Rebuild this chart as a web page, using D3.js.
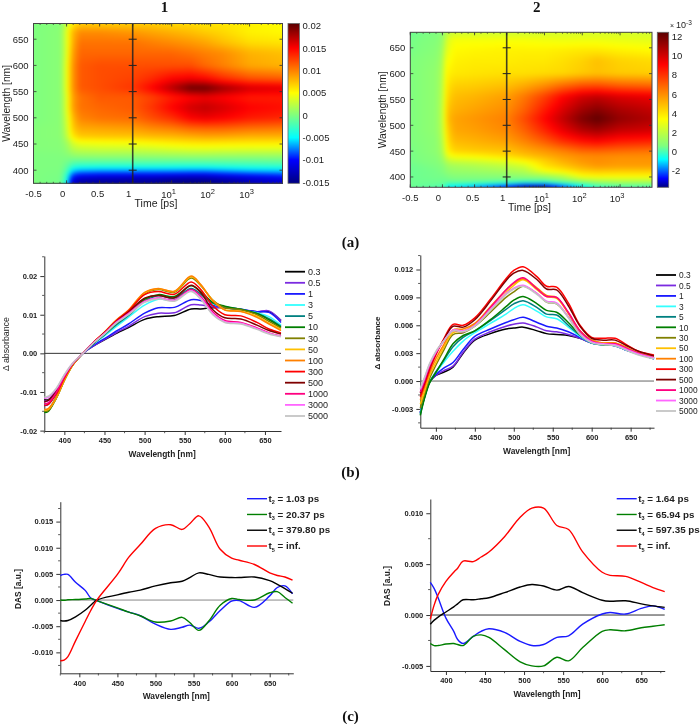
<!DOCTYPE html>
<html>
<head>
<meta charset="utf-8">
<script src="https://cdn.jsdelivr.net/npm/d3@7"></script>
<style>
  html, body { margin: 0; padding: 0; background: #fff; }
  body { position: relative; width: 700px; height: 724px; overflow: hidden; }
  .surface { position: absolute; overflow: hidden; }
  .surface canvas { position: absolute; filter: blur(2px); }
  svg { position: absolute; left: 0; top: 0; filter: blur(0.3px); }
  text { font-family: "Liberation Sans", Arial, sans-serif; fill: #222; }
  .axis path, .axis line { stroke: #333; }
  .axis text { font-size: 7.5px; font-weight: bold; fill: #222; }
</style>
</head>
<body>
<script>
// heatmaps, values in units of 1e-3
var heat1Times = [-0.5, -0.1, 0, 0.05, 0.1, 0.2, 0.5, 1, 3, 10, 30, 70, 200, 1000, 7000];
var heat1Wavelengths = [375, 380, 390, 400, 410, 420, 430, 445, 455, 465, 480, 500, 520, 540, 558, 575, 600, 625, 645, 665, 680];
var heat1Values = [
  [0, -0.3, -5, -10, -12.5, -14, -14.5, -14.5, -14.5, -15, -15.3, -15, -14.5, -13, -12],
  [0, -0.3, -4.5, -9.5, -12, -13.5, -14, -14.2, -14.3, -14.8, -15, -14.8, -14.3, -13, -12],
  [0, -0.2, -3.5, -7.5, -9.5, -10.5, -11, -11.2, -11.2, -11.5, -11.7, -11.7, -11, -10.3, -9.5],
  [0, -0.1, -2, -4.5, -6, -6.7, -7, -7, -7, -7, -7.2, -7.2, -6.8, -6.2, -6],
  [0, 0, -1, -2, -2.8, -3.1, -3.2, -3.2, -3.2, -3.3, -3.3, -3.3, -3.1, -2.9, -2.7],
  [0, 0, -0.2, -0.5, -0.6, -0.7, -0.7, -0.7, -0.7, -0.7, -0.7, -0.7, -0.7, -0.7, -0.6],
  [0, 0.1, 0.3, 0.6, 0.9, 1.1, 1.2, 1.2, 1.3, 1.4, 1.5, 1.5, 1.4, 1.4, 1.4],
  [0.2, 0.3, 1, 2, 2.7, 3.2, 3.5, 3.6, 3.8, 4.2, 4.5, 4.6, 4.5, 4.4, 4.4],
  [0.2, 0.3, 1.5, 2.8, 3.8, 4.8, 5, 5.2, 5.6, 6, 6.3, 6.4, 6.3, 6.2, 6.1],
  [0.2, 0.4, 2.5, 4.5, 6, 7, 7.2, 7.3, 7.6, 7.8, 8.2, 8.5, 8.4, 8, 8],
  [0.2, 0.4, 3, 5.5, 7.2, 8.3, 8.5, 8.8, 9.5, 10, 10.8, 11, 11, 10.5, 10.2],
  [0, 0.4, 3.5, 6, 8, 9.8, 10.5, 10.8, 12, 13.2, 15, 15.5, 15, 14, 13.5],
  [0, 0.4, 4, 7, 9, 10.5, 11, 11.5, 13, 15, 16.5, 17, 16.3, 15, 14.5],
  [0, 0.4, 4, 7, 9, 10.5, 11.5, 11.5, 12.5, 14, 15, 15.5, 15, 14, 14],
  [0, 0.4, 4.5, 7.5, 9.5, 11.5, 12, 13, 15, 17.5, 20, 20, 18.3, 16.5, 16],
  [0, 0.4, 4.5, 7.5, 9.5, 11.5, 12, 12.5, 13.5, 15, 15.5, 15, 13.5, 12, 11.5],
  [0, 0.4, 4.5, 7.5, 9.5, 11.5, 12, 12, 12, 12, 12, 11, 10, 8.5, 8],
  [0, 0.4, 4, 7, 9, 11, 11, 11, 11, 11, 10.5, 10, 9.5, 8, 7.5],
  [0, 0.4, 4, 6.5, 8.5, 10.5, 10.5, 10.5, 10, 9.5, 9, 8.5, 7.5, 6.3, 6],
  [0, 0.4, 4, 6.5, 8, 9.5, 9.5, 9, 8.5, 8, 7.5, 7, 6.5, 5.5, 5.2],
  [0, 0.3, 3, 5, 6, 7, 7, 7, 7, 6.5, 6.5, 6, 6, 5.5, 5]
];
var heat1ColorValues = [-15.2, -10, -5, 0, 5, 10, 15, 20.5];

var heat2Times = [-0.5, -0.1, 0, 0.05, 0.1, 0.2, 0.5, 1, 3, 10, 30, 100, 250, 1000, 7000];
var heat2Wavelengths = [380, 384, 390, 400, 410, 420, 430, 440, 450, 470, 490, 512, 530, 555, 575, 600, 625, 645, 665, 680];
var heat2Values = [
  [0.4, 0.1, 0, -0.3, -1, -1, -1.5, -2.8, -3.7, -3.7, -2.4, -1, -0.3, 0, 0],
  [0.4, 0.3, 0.2, 0, -0.5, -0.5, -0.8, -1.3, -2.2, -2.2, -1.2, -0.3, 0.3, 0.5, 0.5],
  [0.4, 0.4, 0.4, 0.4, 0.4, 0.4, 0.4, 0.2, 0, 0, 0.4, 0.8, 1.2, 1.5, 1.5],
  [0.4, 0.5, 0.5, 0.5, 0.6, 0.7, 0.7, 0.8, 0.9, 1, 1.6, 3.2, 3.4, 3.4, 3.4],
  [0.4, 0.5, 0.6, 0.8, 1, 1.1, 1.2, 1.4, 1.7, 3, 3.6, 4.4, 4.6, 4.5, 4.5],
  [0.4, 0.6, 0.7, 1, 1.3, 1.4, 1.6, 2, 2.4, 4, 4.6, 5.3, 5.7, 5.6, 5.6],
  [0.5, 0.7, 1, 1.5, 2, 2.2, 2.4, 2.8, 3.5, 4.4, 5.2, 5.8, 6, 5.8, 5.8],
  [0.5, 0.8, 1.2, 2.3, 3, 3.4, 3.6, 4.2, 4.7, 5.2, 5.7, 6, 6.1, 6, 6],
  [0.5, 0.9, 1.4, 2.8, 3.8, 4.4, 4.6, 4.8, 5.3, 5.8, 6.3, 6.9, 7, 6.8, 6.6],
  [0.6, 0.9, 1.6, 3.2, 4.3, 5, 5.2, 5.6, 6.3, 7.2, 8.2, 8.9, 9.2, 8.7, 8.5],
  [0.6, 1, 1.8, 3.6, 4.6, 5.4, 5.6, 6.1, 7, 8.3, 9.5, 10.6, 11, 10.3, 10],
  [0.6, 1, 1.9, 3.8, 5, 5.5, 5.8, 6.3, 7.5, 9, 10.3, 11.7, 12.3, 11.3, 10.7],
  [0.6, 1, 1.9, 3.8, 4.8, 5.2, 5.5, 6, 7, 8.5, 9.8, 11, 11.5, 10.8, 10.3],
  [0.6, 1, 1.8, 3.6, 4.4, 4.9, 5.1, 5.6, 6.5, 7.7, 9, 10, 10.3, 9.8, 9.5],
  [0.6, 1, 1.7, 3.5, 4.1, 4.5, 4.6, 4.9, 5.4, 6.1, 6.9, 7.5, 7.6, 7.2, 7],
  [0.6, 1, 1.6, 3.3, 3.7, 3.9, 4, 4.1, 4.1, 4.2, 4.3, 4.6, 4.8, 4.6, 4.5],
  [0.6, 0.9, 1.4, 3, 3.3, 3.7, 3.8, 3.8, 3.9, 3.9, 4.1, 4.4, 4.8, 4.4, 4.2],
  [0.5, 0.8, 1.2, 2.5, 3, 3.5, 3.6, 3.7, 3.7, 3.7, 3.8, 3.9, 3.9, 3.7, 3.5],
  [0.5, 0.7, 1, 2, 2.8, 3.2, 3.2, 3.2, 3.2, 3.1, 3, 3, 3, 2.9, 2.8],
  [0.4, 0.6, 0.8, 1.5, 2, 2.3, 2.3, 2.3, 2.3, 2.4, 2.5, 2.5, 2.5, 2.5, 2.4]
];
var heat2ColorValues = [-3.73, -2.8, -0.8, 0.6, 3.4, 6.3, 9.1, 12.46];

var heatColors = ["#00007f", "#0000ff", "#00ffff", "#7fff7f", "#ffff00", "#ff8000", "#ff0000", "#5a0000"];

// time resolved spectra
var delayLabels = ["0.3", "0.5", "1", "3", "5", "10", "30", "50", "100", "300", "500", "1000", "3000", "5000"];
var delayColors = ["#000000", "#7b2be0", "#1a1aff", "#33ffff", "#008080", "#007f00", "#808000", "#ffc000", "#ff8000", "#ff0000", "#7f0000", "#ff0080", "#ff66ff", "#c4c4c4"];

var spec1Wavelengths = [375, 380, 390, 400, 410, 423, 437, 450, 465, 480, 500, 517, 537, 558, 570, 585, 600, 620, 640, 655, 670];
var spec1Values = [
  [-12, -12, -9.5, -6, -3, 0, 2, 3.5, 5.2, 6.7, 8.8, 9.5, 9.8, 11.5, 11.5, 11.8, 11.8, 11.3, 10.8, 10.8, 8.5],
  [-12.3, -12.2, -9.6, -6, -3, 0, 2, 3.6, 5.4, 7, 9.5, 10.4, 10.5, 12.6, 12.5, 12, 11.8, 11.3, 10.8, 11, 8.5],
  [-13.5, -13.2, -10.3, -6.3, -3, 0, 2.2, 3.8, 5.8, 7.6, 10.4, 11.8, 11.9, 13.9, 13.7, 12.4, 12, 11.4, 10.8, 10.6, 8],
  [-14.8, -14.5, -11, -6.5, -3, 0, 2.5, 4.5, 7, 9.4, 12.5, 14, 13.8, 16.2, 15, 12.8, 12, 11.3, 10.5, 9.5, 7.3],
  [-15, -14.7, -11.3, -6.8, -3.1, 0, 2.6, 4.8, 7.4, 9.8, 13.5, 14.9, 14.3, 16.8, 15.3, 13, 12, 11.4, 10.3, 9, 7],
  [-15.3, -15, -11.5, -7, -3.1, 0, 2.7, 5, 7.8, 10.2, 14, 15.2, 14.7, 17.5, 16, 13.2, 12.2, 11.4, 10.3, 8.7, 6.8],
  [-15, -14.8, -11.6, -7, -3.2, 0, 2.8, 5.2, 8.3, 10.8, 15.4, 16.5, 15.8, 19.5, 17.5, 13.8, 11.8, 11.3, 10, 8.3, 6.5],
  [-14.7, -14.5, -11.5, -7, -3.2, 0, 2.9, 5.4, 8.5, 11, 15.6, 16.7, 16, 19.8, 17.7, 13.7, 11.3, 10.9, 9.6, 7.8, 6.2],
  [-14.5, -14.3, -11.3, -6.9, -3.1, 0, 3, 5.5, 8.7, 11.2, 15.8, 16.8, 16.1, 20, 17.8, 13.6, 11.2, 10.8, 9.3, 7.6, 5.9],
  [-13.5, -13.2, -10.5, -6.3, -2.9, 0, 3, 5.4, 8.5, 11, 15.2, 16, 15.3, 18.5, 16.5, 12.3, 10, 9.7, 8, 6.3, 5.3],
  [-12.5, -12.2, -9.8, -6, -2.8, 0, 2.9, 5.3, 8.3, 10.7, 14.3, 15, 14.4, 17.6, 15.7, 11.3, 9.2, 8.9, 7.3, 5.9, 5],
  [-13, -12.8, -10.1, -6.1, -2.8, 0, 2.9, 5.2, 8.2, 10.4, 13.5, 14.3, 13.8, 16.5, 14.7, 10.7, 8.5, 8, 6.6, 5.3, 4.5],
  [-11.6, -11.4, -9.2, -5.6, -2.6, 0, 2.8, 5.1, 8, 10.2, 13.4, 14.3, 13.7, 16.2, 14.3, 10.3, 8.2, 7.8, 6.4, 5.2, 4.4],
  [-11.3, -11.1, -9, -5.5, -2.6, 0, 2.8, 5, 7.9, 10, 13.2, 14.1, 13.5, 16, 14, 10, 8, 7.6, 6.2, 5, 4.3]
];

var spec2Wavelengths = [380, 385, 392, 400, 410, 422, 435, 450, 470, 490, 500, 512, 530, 542, 555, 570, 585, 600, 615, 630, 645, 660, 680];
var spec2Values = [
  [-3.4, -1.8, -0.1, 0.6, 0.95, 1.5, 3, 4.4, 5.1, 5.6, 5.7, 5.8, 5.4, 5.1, 5, 4.9, 4.6, 4.1, 3.9, 3.8, 3.3, 2.9, 2.4],
  [-3.4, -1.8, -0.1, 0.6, 1.1, 1.6, 3.1, 4.5, 5.3, 5.9, 6.1, 6.25, 5.8, 5.4, 5.3, 5, 4.6, 4.1, 3.9, 3.8, 3.3, 2.9, 2.4],
  [-3.4, -1.8, -0.1, 0.7, 1.4, 2, 3.4, 4.8, 5.6, 6.3, 6.6, 6.85, 6.3, 5.9, 5.7, 5.3, 4.7, 4.1, 3.9, 3.8, 3.3, 2.9, 2.4],
  [-3.5, -1.8, -0.1, 0.9, 2, 3.2, 4.3, 5.2, 6.2, 7.2, 7.8, 8.2, 7.5, 6.9, 6.7, 5.8, 4.8, 4.1, 3.9, 3.8, 3.3, 2.9, 2.4],
  [-3.6, -1.9, -0.1, 1, 2.2, 3.7, 4.7, 5.4, 6.5, 7.7, 8.3, 8.65, 7.9, 7.2, 7.1, 6, 4.9, 4.1, 3.9, 3.9, 3.4, 2.9, 2.5],
  [-3.7, -2, -0.2, 0.9, 2.3, 4, 4.9, 5.4, 6.6, 8, 8.7, 9.1, 8.3, 7.6, 7.4, 6.3, 5, 4.2, 3.9, 3.9, 3.4, 3, 2.5],
  [-2.9, -1.5, 0.3, 1.7, 3.3, 5, 5.2, 5.9, 7.4, 9, 9.6, 10.2, 9.4, 8.5, 8.3, 6.9, 5.2, 4.3, 4, 4, 3.5, 3, 2.5],
  [-2.5, -1.2, 0.6, 2, 3.6, 5.2, 5.4, 6.1, 7.7, 9.5, 10.3, 10.9, 9.8, 9.1, 8.9, 7.3, 5.4, 4.4, 4.1, 4.1, 3.6, 3, 2.6],
  [-2, -0.8, 0.9, 2.4, 3.9, 5.5, 5.6, 6.2, 8, 9.8, 10.5, 11, 10, 9.2, 9, 7.3, 5.4, 4.4, 4.1, 4.1, 3.6, 3, 2.6],
  [-1.7, -0.5, 1.2, 2.8, 4.5, 6.1, 6, 6.8, 8.8, 11, 11.9, 12.3, 11.2, 10.2, 10.1, 8.4, 6, 4.7, 4.6, 4.6, 3.9, 3.2, 2.8],
  [-1.3, -0.2, 1.5, 3, 4.4, 5.9, 5.8, 6.6, 8.6, 10.8, 11.6, 11.9, 10.9, 9.9, 9.8, 8.1, 5.9, 4.6, 4.4, 4.4, 3.8, 3.2, 2.7],
  [-1.2, -0.1, 1.6, 3, 4.3, 5.4, 5.3, 6, 7.9, 9.8, 10.6, 11.1, 9.9, 9.1, 9, 7.4, 5.4, 4.3, 4, 4, 3.5, 3, 2.5],
  [-0.9, 0.2, 1.8, 3.1, 4.3, 5.5, 5.4, 6, 7.7, 9.4, 10, 10.3, 9.4, 8.6, 8.4, 6.9, 5.1, 4.2, 4, 3.9, 3.4, 2.9, 2.5],
  [-0.8, 0.3, 1.9, 3.2, 4.3, 5.4, 5.3, 5.9, 7.6, 9.3, 9.9, 10.2, 9.3, 8.5, 8.3, 6.8, 5, 4.1, 3.9, 3.8, 3.3, 2.8, 2.4]
];

// decay associated spectra
var dasColors = ["#1a1aff", "#007f00", "#000000", "#ff0000"];
var dasSubscripts = ["2", "3", "4", "5"];

var das1Lifetimes = ["1.03 ps", "20.37 ps", "379.80 ps", "inf."];
var das1Wavelengths = [375, 380, 385, 395, 408, 415, 423, 450, 465, 480, 500, 520, 535, 545, 557, 570, 585, 600, 610, 630, 650, 660, 670, 680];
var das1Values = [
  [4.7, 4.9, 4.9, 3.4, 1.8, 0.4, -0.1, -1.6, -2.3, -3, -4.6, -5.6, -5.2, -4.8, -5.4, -4.2, -2, -0.2, -0.1, -1.4, 0.8, 2.4, 2.7, 1.2],
  [0, -0.05, 0.05, 0.1, 0.2, 0.3, -0.1, -1.5, -2.3, -3, -4.2, -4, -3.3, -4.3, -5.8, -4, -1, 0.3, 0.1, 0, 1.4, 1.6, 0.5, -0.6],
  [-3.9, -4, -3.9, -3.2, -1.9, -1, 0, 1, 1.5, 1.9, 2.7, 3.3, 3.6, 4.3, 5.2, 4.9, 4.4, 4.3, 4.3, 4.4, 3.7, 3, 2.2, 1.3],
  [-11.6, -11.5, -10.8, -7.8, -4, -2, 0, 4.9, 8.2, 10.6, 13.7, 14.4, 13.5, 14.6, 16.1, 14, 9.7, 8, 7.6, 6.8, 5.2, 4.7, 4.4, 3.8]
];

var das2Lifetimes = ["1.64 ps", "65.94 ps", "597.35 ps", "inf."];
var das2Wavelengths = [380, 385, 390, 400, 410, 415, 422, 435, 445, 455, 475, 495, 510, 525, 542, 557, 575, 600, 610, 630, 650, 665, 680];
var das2Values = [
  [3.2, 2.6, 1.7, -0.3, -1.6, -2.4, -2.8, -2.1, -1.6, -1.35, -1.7, -2.6, -3, -2.9, -2.2, -2.05, -0.9, 0.1, 0.25, 0.1, 0.65, 0.9, 0.55],
  [-2.8, -3, -3, -2.85, -2.8, -2.9, -3, -2.1, -1.95, -2.2, -3.4, -4.6, -5, -5, -4.15, -4.5, -3.2, -1.6, -1.45, -1.55, -1.25, -1.1, -0.95],
  [-0.9, -0.5, -0.2, 0.3, 0.8, 1.1, 1.5, 1.5, 1.6, 1.7, 2.2, 2.75, 3, 2.85, 2.45, 2.8, 2.2, 1.45, 1.35, 1.4, 1.1, 0.9, 0.75],
  [-0.4, 1, 2, 3.3, 4.2, 4.6, 5.3, 5.25, 5.7, 6.2, 7.7, 9.6, 10.5, 10.5, 8.8, 8.4, 6.2, 4.2, 3.9, 3.8, 3.2, 2.7, 2.3]
];

var wavelengthTicks = [400, 450, 500, 550, 600, 650];
var linearTimeTicks = [-0.5, 0, 0.5, 1];
var linearLabelShift = [0, -4, -2, -4];
var logTimeTicks = [10, 100, 1000];

var width = 700, height = 724;

var svg = d3.select("body").append("svg")
  .attr("width", width)
  .attr("height", height);

function heatmap(o) {
  var xLin = d3.scaleLinear().domain([-0.5, 1]).range([o.left, o.split]);
  var xLog = d3.scaleLog().domain([1, 7000]).range([o.split, o.right]);
  var xTime = function(t) { return t <= 1 ? xLin(t) : xLog(t); };
  var y = d3.scaleLinear().domain(o.wlDomain).range([o.bottom, o.top]);
  var color = d3.scaleLinear().domain(o.colorValues).range(heatColors).clamp(true);

  // the surface, one pixel at a time between the read nodes.
  // it is bigger than the plot so the blur does not fade at the edges
  var pad = 8;
  var w = Math.round(o.right - o.left), h = Math.round(o.bottom - o.top);
  var cw = w + 2 * pad, ch = h + 2 * pad;
  var holder = d3.select("body").insert("div", "svg").attr("class", "surface")
    .style("left", o.left + "px").style("top", o.top + "px")
    .style("width", w + "px").style("height", h + "px");
  var canvas = holder.append("canvas")
    .attr("width", cw).attr("height", ch)
    .style("left", -pad + "px").style("top", -pad + "px");
  var ctx = canvas.node().getContext("2d");
  var img = ctx.createImageData(cw, ch);
  var nodeX = o.times.map(xTime);
  var bisect = d3.bisectRight;
  var clamp01 = function(a) { return Math.max(0, Math.min(1, a)); };
  for (var py = 0; py < ch; py++) {
    var wl = y.invert(o.top - pad + py + 0.5);
    var j = Math.min(Math.max(bisect(o.wavelengths, wl) - 1, 0), o.wavelengths.length - 2);
    var v = clamp01((wl - o.wavelengths[j]) / (o.wavelengths[j + 1] - o.wavelengths[j]));
    for (var px = 0; px < cw; px++) {
      var sx = o.left - pad + px + 0.5;
      var i = Math.min(Math.max(bisect(nodeX, sx) - 1, 0), nodeX.length - 2);
      var u = clamp01((sx - nodeX[i]) / (nodeX[i + 1] - nodeX[i]));
      var z = (1 - v) * ((1 - u) * o.values[j][i] + u * o.values[j][i + 1])
        + v * ((1 - u) * o.values[j + 1][i] + u * o.values[j + 1][i + 1]);
      var c = d3.rgb(color(z));
      var k = (py * cw + px) * 4;
      img.data[k] = c.r; img.data[k + 1] = c.g; img.data[k + 2] = c.b; img.data[k + 3] = 255;
    }
  }
  ctx.putImageData(img, 0, 0);

  var g = svg.append("g");

  // ticks on all four sides, minors every 0.1 ps and log 2..9
  var minorT = d3.range(-5, 11).map(function(d) { return d / 10; });
  var logMinor = [];
  [1, 10, 100, 1000].forEach(function(d) {
    d3.range(2, 10).forEach(function(m) { if (d * m < 7000) logMinor.push(d * m); });
  });
  var allMinor = minorT.concat(logMinor);
  var major = linearTimeTicks.concat(logTimeTicks);
  [o.bottom, o.top].forEach(function(edge, n) {
    var dir = n === 0 ? -1 : 1;
    g.selectAll(null).data(allMinor).enter().append("line")
      .attr("x1", xTime).attr("x2", xTime)
      .attr("y1", edge).attr("y2", edge + dir * 1.5)
      .attr("stroke", "#333").attr("stroke-width", 0.7);
    g.selectAll(null).data(major).enter().append("line")
      .attr("x1", xTime).attr("x2", xTime)
      .attr("y1", edge).attr("y2", edge + dir * 3)
      .attr("stroke", "#333").attr("stroke-width", 0.8);
  });
  var yTicks = [400, 450, 500, 550, 600, 650];
  g.selectAll(null).data(yTicks).enter().append("line")
    .attr("x1", o.left).attr("x2", o.left + 3)
    .attr("y1", y).attr("y2", y).attr("stroke", "#333").attr("stroke-width", 0.8);
  g.selectAll(null).data(yTicks).enter().append("line")
    .attr("x1", o.right - 3).attr("x2", o.right)
    .attr("y1", y).attr("y2", y).attr("stroke", "#333").attr("stroke-width", 0.8);
  g.selectAll(null).data(yTicks).enter().append("line")
    .attr("x1", o.split - 4).attr("x2", o.split + 4)
    .attr("y1", y).attr("y2", y).attr("stroke", "#222").attr("stroke-width", 1);

  g.append("line")
    .attr("x1", o.split).attr("x2", o.split).attr("y1", o.top).attr("y2", o.bottom)
    .attr("stroke", "#222").attr("stroke-opacity", 0.85).attr("stroke-width", 1.6);
  g.append("rect")
    .attr("x", o.left).attr("y", o.top).attr("width", o.right - o.left).attr("height", o.bottom - o.top)
    .attr("fill", "none").attr("stroke", "#444").attr("stroke-width", 1);

  // labels
  g.selectAll(null).data(yTicks).enter().append("text")
    .attr("x", o.left - 5).attr("y", function(d) { return y(d) + 3.4; })
    .attr("text-anchor", "end").attr("font-size", 9.5).attr("fill", "#333")
    .text(function(d) { return d; });
  g.selectAll(null).data(linearTimeTicks).enter().append("text")
    .attr("x", function(d, i) { return xLin(d) + linearLabelShift[i]; })
    .attr("y", o.bottom + 14).attr("text-anchor", "middle").attr("font-size", 9.5).attr("fill", "#333")
    .text(function(d) { return d; });
  var exp = g.selectAll(null).data(logTimeTicks).enter().append("text")
    .attr("x", function(d) { return xLog(d) - 3; })
    .attr("y", o.bottom + 15).attr("text-anchor", "middle").attr("font-size", 9.5).attr("fill", "#333");
  exp.append("tspan").text("10");
  exp.append("tspan").attr("dy", -4).attr("font-size", 7.5)
    .text(function(d) { return Math.round(Math.log10(d)); });
  g.append("text")
    .attr("x", o.timeLabelX).attr("y", o.bottom + 23.5)
    .attr("text-anchor", "middle").attr("font-size", 10.5).attr("fill", "#333").text("Time [ps]");
  g.append("text")
    .attr("transform", "translate(" + o.yLabelX + "," + ((o.top + o.bottom) / 2) + ") rotate(-90)")
    .attr("text-anchor", "middle").attr("font-size", 10.3).attr("fill", "#333").text("Wavelength [nm]");

  // colour bar
  var barY = d3.scaleLinear().domain(o.barDomain).range([o.bottom, o.top]);
  var grad = svg.append("defs").append("linearGradient")
    .attr("id", o.id).attr("x1", 0).attr("x2", 0).attr("y1", 1).attr("y2", 0);
  grad.selectAll("stop").data(o.colorValues).enter().append("stop")
    .attr("offset", function(d) { return (d - o.colorValues[0]) / (o.colorValues[o.colorValues.length - 1] - o.colorValues[0]); })
    .attr("stop-color", function(d) { return color(d); });
  g.append("rect")
    .attr("x", o.barX).attr("y", o.top).attr("width", 11.4).attr("height", o.bottom - o.top)
    .attr("fill", "url(#" + o.id + ")").attr("stroke", "#666").attr("stroke-width", 0.8);
  g.selectAll(null).data(o.barTicks).enter().append("text")
    .attr("x", o.barX + 14.5).attr("y", function(d) { return barY(d) + 3.4; })
    .attr("font-size", 9.5).attr("fill", "#333")
    .text(o.barFormat);
}

heatmap({
  id: "bar1", times: heat1Times, wavelengths: heat1Wavelengths, values: heat1Values,
  colorValues: heat1ColorValues, wlDomain: [375, 680],
  left: 33.5, split: 132.7, right: 282.5, top: 23.5, bottom: 183.3,
  timeLabelX: 156, yLabelX: 9.5,
  barX: 288, barDomain: [-15.2, 20.5], barTicks: [-15, -10, -5, 0, 5, 10, 15, 20],
  barFormat: function(d) { return d === 0 ? "0" : String(d / 1000); }
});

heatmap({
  id: "bar2", times: heat2Times, wavelengths: heat2Wavelengths, values: heat2Values,
  colorValues: heat2ColorValues, wlDomain: [380, 680],
  left: 410.3, split: 506.7, right: 652, top: 32.3, bottom: 187.3,
  timeLabelX: 529.5, yLabelX: 385.5,
  barX: 657.3, barDomain: [-3.73, 12.46], barTicks: [-2, 0, 2, 4, 6, 8, 10, 12],
  barFormat: function(d) { return d; }
});

var expo = svg.append("text").attr("x", 670).attr("y", 28).attr("font-size", 9).attr("fill", "#444");
expo.append("tspan").attr("font-size", 7).text("× ");
expo.append("tspan").text("10");
expo.append("tspan").attr("dy", -3).attr("font-size", 6.5).text("-3");

function spectra(o) {
  var x = d3.scaleLinear().domain(o.xDomain).range([o.left, o.right]);
  var y = d3.scaleLinear().domain(o.yDomain).range([o.bottom, o.top]);
  var g = svg.append("g");
  var fmt = function(d) { return (d / 1000).toFixed(o.digits); };

  g.append("g").attr("class", "axis")
    .attr("transform", "translate(0," + o.bottom + ")")
    .call(d3.axisBottom(x).tickValues(wavelengthTicks).tickSize(4).tickSizeOuter(0).tickPadding(3).tickFormat(d3.format("d")));
  g.append("g").attr("class", "axis")
    .attr("transform", "translate(" + o.left + ",0)")
    .call(d3.axisLeft(y).tickValues(o.yTicks).tickSize(4).tickSizeOuter(0).tickPadding(3).tickFormat(fmt));
  // minors halfway between the majors
  var xMinor = wavelengthTicks.map(function(d) { return d + 25; }).concat([wavelengthTicks[0] - 25])
    .filter(function(d) { return d >= o.xDomain[0] && d <= o.xDomain[1]; });
  g.selectAll(null).data(xMinor).enter().append("line")
    .attr("x1", x).attr("x2", x).attr("y1", o.bottom).attr("y2", o.bottom + 2.2)
    .attr("stroke", "#333").attr("stroke-width", 0.8);
  var step = o.yTicks[1] - o.yTicks[0];
  var yMinor = o.yTicks.map(function(d) { return d + step / 2; }).concat([o.yTicks[0] - step / 2])
    .filter(function(d) { return d >= o.yDomain[0] && d <= o.yDomain[1]; });
  g.selectAll(null).data(yMinor).enter().append("line")
    .attr("x1", o.left).attr("x2", o.left - 2.2).attr("y1", y).attr("y2", y)
    .attr("stroke", "#333").attr("stroke-width", 0.8);

  g.append("line")
    .attr("x1", o.left).attr("x2", o.right).attr("y1", y(0)).attr("y2", y(0))
    .attr("stroke", o.zeroColor).attr("stroke-width", 1);

  var line = d3.line()
    .x(function(d, i) { return x(o.wavelengths[i]); })
    .y(function(d) { return y(d); })
    .curve(d3.curveCatmullRom.alpha(0.5));

  g.selectAll(null).data(o.values).enter().append("path")
    .attr("d", line)
    .attr("fill", "none")
    .attr("stroke", function(d, i) { return o.colors[i]; })
    .attr("stroke-width", o.lineWidth);

  g.append("text")
    .attr("x", (o.left + o.right) / 2 - 0.5).attr("y", o.bottom + 26)
    .attr("text-anchor", "middle").attr("font-size", 8.4).attr("font-weight", "bold").text("Wavelength [nm]");
  g.append("text")
    .attr("transform", "translate(" + o.yLabelX + "," + o.yLabelY + ") rotate(-90)")
    .attr("text-anchor", "middle").attr("font-size", o.yLabelSize).attr("font-weight", o.yLabelWeight)
    .text(o.yLabel);
  return g;
}

function delayLegend(g, o) {
  var ly = d3.scalePoint().domain(delayLabels).range([o.y0, o.y1]);
  var rows = g.selectAll(null).data(delayLabels).enter().append("g")
    .attr("transform", function(d) { return "translate(0," + ly(d) + ")"; });
  rows.append("line")
    .attr("x1", o.x).attr("x2", o.x + 20)
    .attr("stroke", function(d, i) { return delayColors[i]; }).attr("stroke-width", 1.8);
  rows.append("text")
    .attr("x", o.x + 23).attr("y", 3.2)
    .attr("font-size", o.size).attr("fill", "#333").text(function(d) { return d; });
}

var panelB1 = spectra({
  wavelengths: spec1Wavelengths, values: spec1Values, colors: delayColors,
  xDomain: [375, 670], yDomain: [-20.1, 25.2], yTicks: [-20, -10, 0, 10, 20], digits: 2,
  left: 44.3, right: 281, top: 256, bottom: 431,
  zeroColor: "#333", lineWidth: 1.5,
  yLabel: "Δ absorbance", yLabelX: 9, yLabelY: 344, yLabelSize: 8.8, yLabelWeight: "normal"
});
delayLegend(panelB1, { x: 285, y0: 271.7, y1: 416, size: 9 });

var panelB2 = spectra({
  wavelengths: spec2Wavelengths, values: spec2Values, colors: delayColors,
  xDomain: [380, 680], yDomain: [-5.02, 13.56], yTicks: [-3, 0, 3, 6, 9, 12], digits: 3,
  left: 420.3, right: 654, top: 255, bottom: 427.7,
  zeroColor: "#666", lineWidth: 1.5,
  yLabel: "Δ absorbance", yLabelX: 380, yLabelY: 343, yLabelSize: 8, yLabelWeight: "bold"
});
delayLegend(panelB2, { x: 656, y0: 275, y1: 411, size: 8.4 });

function dasLegend(g, x, lifetimes) {
  var ly = d3.scalePoint().domain(lifetimes).range([498.7, 546]);
  var rows = g.selectAll(null).data(lifetimes).enter().append("g")
    .attr("transform", function(d) { return "translate(0," + ly(d) + ")"; });
  rows.append("line").attr("x1", x).attr("x2", x + 20)
    .attr("stroke", function(d, i) { return dasColors[i]; }).attr("stroke-width", 1.4);
  var t = rows.append("text").attr("x", x + 21.5).attr("y", 3.2)
    .attr("font-size", 9.8).attr("font-weight", "bold");
  t.append("tspan").text("t");
  t.append("tspan").attr("dy", 2.5).attr("font-size", 5.5).text(function(d, i) { return dasSubscripts[i]; });
  t.append("tspan").attr("dy", -2.5).text(function(d) { return " = " + d; });
}

var panelC1 = spectra({
  wavelengths: das1Wavelengths, values: das1Values, colors: dasColors,
  xDomain: [375, 681], yDomain: [-14, 18.8], yTicks: [-10, -5, 0, 5, 10, 15], digits: 3,
  left: 60.3, right: 293.3, top: 501.7, bottom: 673.3,
  zeroColor: "#888", lineWidth: 1.4,
  yLabel: "DAS [a.u.]", yLabelX: 21, yLabelY: 589, yLabelSize: 8.4, yLabelWeight: "bold"
});
dasLegend(panelC1, 247, das1Lifetimes);

var panelC2 = spectra({
  wavelengths: das2Wavelengths, values: das2Values, colors: dasColors,
  xDomain: [380, 680], yDomain: [-5.5, 11.4], yTicks: [-5, 0, 5, 10], digits: 3,
  left: 430.3, right: 664.7, top: 499, bottom: 671,
  zeroColor: "#333", lineWidth: 1.4,
  yLabel: "DAS [a.u.]", yLabelX: 390, yLabelY: 586, yLabelSize: 8.4, yLabelWeight: "bold"
});
dasLegend(panelC2, 616.7, das2Lifetimes);

// titles and panel letters
var serif = '"Liberation Serif", "Times New Roman", serif';
svg.selectAll(null).data([["1", 164.5, 12], ["2", 536.7, 12], ["(a)", 350.5, 247], ["(b)", 350.5, 477], ["(c)", 350.5, 721]])
  .enter().append("text")
  .attr("x", function(d) { return d[1]; })
  .attr("y", function(d) { return d[2]; })
  .attr("text-anchor", "middle")
  .style("font-family", serif)
  .style("font-weight", "bold")
  .style("font-size", "15px")
  .style("fill", "#111")
  .text(function(d) { return d[0]; });
</script>
</body>
</html>
